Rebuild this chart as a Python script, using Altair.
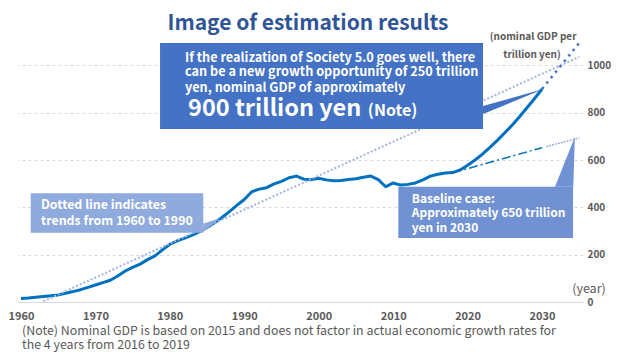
import altair as alt
import pandas as pd

FONT = "Noto Sans CJK JP"

# ---------------- data ----------------
years = list(range(1960, 2031))
gdp = [15, 17, 20, 23, 26, 30, 37, 44, 52, 62,
       72, 82, 92, 110, 131, 146, 160, 179, 195, 220,
       244, 258, 270, 283, 297, 315, 335, 357, 382, 408,
       433, 466, 477, 483, 499, 510, 525, 532, 519, 517,
       523, 516, 512, 513, 518, 521, 527, 532, 517, 487,
       503, 494, 497, 503, 516, 532, 540, 545, 547, 558,
       578, 600, 625, 653, 683, 715, 748, 784, 822, 860, 900]

trend_years = [1963, 2035]
trend_vals = [3, 1036]
society_years = [2030, 2035]
society_vals = [900, 1095]
base_years = [2018, 2030]
base_vals = [546, 652]
base_ext_years = [2030.6, 2035]
base_ext_vals = [657, 693]

x_ticks = [1960, 1970, 1980, 1990, 2000, 2010, 2020, 2030]
y_ticks = [0, 200, 400, 600, 800, 1000]

title_text = "Image of estimation results"
box_main_lines = ["If the realization of Society 5.0 goes well, there",
                  "can be a new growth opportunity of 250 trillion",
                  "yen, nominal GDP of approximately"]
big_text = "900 trillion yen"
note_tag = "(Note)"
trend_lines = ["Dotted line indicates", "trends from 1960 to 1990"]
base_lines = ["Baseline case:", "Approximately 650 trillion", "yen in 2030"]
unit_lines = ["(nominal GDP per", "trillion yen)"]
year_label = "(year)"
note_lines = ["(Note) Nominal GDP is based on 2015 and does not factor in actual economic growth rates for",
              "the 4 years from 2016 to 2019"]

# ---------------- scales ----------------
XS = alt.Scale(domain=[1959.6, 2035.5], nice=False, zero=False)
YS = alt.Scale(domain=[0, 1200], nice=False, zero=False)


def X(f):
    return alt.X(f, type="quantitative", scale=XS, title=None)


def Y(f):
    return alt.Y(f, type="quantitative", scale=YS, title=None)


GRAY = "#595959"

main = alt.Chart(pd.DataFrame({"year": years, "gdp": gdp})).mark_line(
    color="#0070C0", strokeWidth=3, strokeJoin="round"
).encode(
    x=alt.X("year:Q", scale=XS, title=None, axis=alt.Axis(
        values=x_ticks, format="d", title=None, grid=False, domain=True,
        domainColor="#D9D9D9", domainWidth=1, ticks=False, labelPadding=8,
        labelFontSize=11, labelColor=GRAY, labelFontWeight="bold", labelFont=FONT,
        labelFlush=False, labelOverlap=False)),
    y=alt.Y("gdp:Q", scale=YS, title=None, axis=alt.Axis(
        orient="right", values=y_ticks, format="d", title=None, grid=True, gridDash=[3, 3],
        gridColor="#D9D9D9", domain=False, ticks=False, labelPadding=4,
        labelFontSize=10, labelColor=GRAY, labelFontWeight="bold", labelFont=FONT,
        labelAlign="left")),
)

trend = alt.Chart(pd.DataFrame({"year": trend_years, "v": trend_vals})).mark_line(
    color="#A3B3E2", strokeWidth=2, strokeDash=[2, 2]
).encode(x=X("year"), y=Y("v"))

society = alt.Chart(pd.DataFrame({"year": society_years, "v": society_vals})).mark_line(
    color="#4472C4", strokeWidth=2.5, strokeDash=[2.5, 4.5]
).encode(x=X("year"), y=Y("v"))

base = alt.Chart(pd.DataFrame({"year": base_years, "v": base_vals})).mark_line(
    color="#0070C0", strokeWidth=1.5, strokeDash=[9, 3, 2, 3]
).encode(x=X("year"), y=Y("v"))

base_ext = alt.Chart(pd.DataFrame({"year": base_ext_years, "v": base_ext_vals})).mark_line(
    color="#6F8FD0", strokeWidth=1.3, strokeDash=[1.5, 1.5]
).encode(x=X("year"), y=Y("v"))

# ---------------- annotation boxes ----------------
boxes_df = pd.DataFrame({
    "x": [1978.68, 1961.31, 2010.69],
    "x2": [2022.07, 1984.49, 2034.16],
    "y": [731, 293, 270],
    "y2": [1094, 459, 487],
    "c": ["#4472C4", "#8FAADC", "#7092D2"],
})
boxes = alt.Chart(boxes_df).mark_rect().encode(
    x=X("x"), x2="x2", y=Y("y"), y2="y2", color=alt.Color("c:N", scale=None)
)

ptr_main = alt.Chart(pd.DataFrame({"x": [2022.07, 2030.2], "y": [828, 900], "y2": [794, 900]})).mark_area(
    color="#4472C4").encode(x=X("x"), y=Y("y"), y2="y2")
ptr_trend = alt.Chart(pd.DataFrame({"x": [1984.49, 1986.74], "y": [332, 354], "y2": [296, 354]})).mark_area(
    color="#8FAADC").encode(x=X("x"), y=Y("y"), y2="y2")
ptr_base = alt.Chart(pd.DataFrame({"y": [487, 697], "x": [2031.74, 2034.4], "x2": [2034.2, 2034.4]})).mark_area(
    color="#7092D2", orient="horizontal").encode(y=Y("y"), x=X("x"), x2="x2")


def texts(xs, ys, labels, **kw):
    df = pd.DataFrame({"x": xs, "y": ys, "t": labels})
    return alt.Chart(df).mark_text(font=FONT, **kw).encode(x=X("x"), y=Y("y"), text="t:N")


t_title = texts([1998.56], [1149.1], [title_text], align="center", baseline="alphabetic",
                fontSize=21, fontWeight="bold", color="#2F5597")
t_unit = texts([2028.8, 2028.65], [1119.6, 1043.5], unit_lines, align="center", baseline="middle",
               fontSize=10, fontWeight="bold", color=GRAY)
t_box = texts([1982.03] * 3, [1015, 955, 888], box_main_lines, align="left", baseline="alphabetic",
              fontSize=12.7, fontWeight="bold", color="white")
t_big = texts([1982.44], [786], [big_text], align="left", baseline="alphabetic",
              fontSize=23.5, fontWeight="bold", color="white")
t_tag = texts([2006.6], [786], [note_tag], align="left", baseline="alphabetic",
              fontSize=16, fontWeight="bold", color="white")
t_trend = texts([1962.69] * 2, [393, 325], trend_lines, align="left", baseline="alphabetic",
                fontSize=12.4, fontWeight="bold", color="white")
t_base = texts([2012.49] * 3, [420, 358, 297], base_lines, align="left", baseline="alphabetic",
               fontSize=12, fontWeight="bold", color="white")
t_year = texts([2036.3], [55], [year_label], align="center", baseline="middle",
               fontSize=12.5, color=GRAY)
t_note = texts([1960.14] * 2, [-141.5, -198.6], note_lines, align="left", baseline="alphabetic",
               fontSize=12.4, color=GRAY)

chart = alt.layer(
    main, trend, society, base, base_ext,
    boxes, ptr_main, ptr_trend, ptr_base,
    t_title, t_unit, t_box, t_big, t_tag, t_trend, t_base, t_year, t_note,
).properties(
    width=565, height=284,
    padding={"left": 10, "top": 10, "right": 28, "bottom": 50},
    autosize=alt.AutoSizeParams(type="none"),
    background="white",
).configure_view(stroke=None)

chart.save("out.html", embed_options={"renderer": "svg", "actions": False})
